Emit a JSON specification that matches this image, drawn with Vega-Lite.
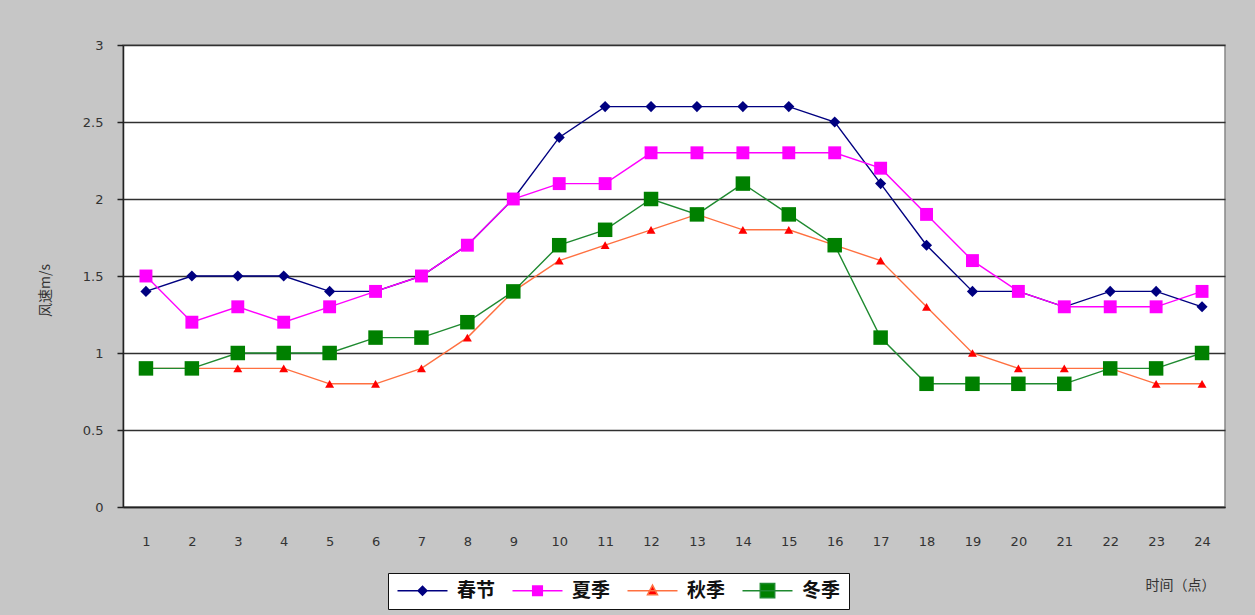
{
  "$schema": "https://vega.github.io/schema/vega-lite/v6.json",
  "autosize": "none",
  "width": 1102,
  "height": 462,
  "padding": {"left": 123, "top": 45, "right": 30, "bottom": 108},
  "background": "#c6c6c6",
  "config": {
    "view": {"fill": "white", "stroke": "#888888", "strokeWidth": 1.5},
    "axis": {"labelFont": "DejaVu Sans", "labelColor": "#333333", "labelFontSize": 13, "titleFont": "Noto Sans CJK SC", "titleColor": "#333333", "titleFontWeight": "normal"}
  },
  "data": {"values": [
    {"hour": 1, "season": "春节", "speed": 1.4}, {"hour": 2, "season": "春节", "speed": 1.5}, {"hour": 3, "season": "春节", "speed": 1.5}, {"hour": 4, "season": "春节", "speed": 1.5},
    {"hour": 5, "season": "春节", "speed": 1.4}, {"hour": 6, "season": "春节", "speed": 1.4}, {"hour": 7, "season": "春节", "speed": 1.5}, {"hour": 8, "season": "春节", "speed": 1.7},
    {"hour": 9, "season": "春节", "speed": 2.0}, {"hour": 10, "season": "春节", "speed": 2.4}, {"hour": 11, "season": "春节", "speed": 2.6}, {"hour": 12, "season": "春节", "speed": 2.6},
    {"hour": 13, "season": "春节", "speed": 2.6}, {"hour": 14, "season": "春节", "speed": 2.6}, {"hour": 15, "season": "春节", "speed": 2.6}, {"hour": 16, "season": "春节", "speed": 2.5},
    {"hour": 17, "season": "春节", "speed": 2.1}, {"hour": 18, "season": "春节", "speed": 1.7}, {"hour": 19, "season": "春节", "speed": 1.4}, {"hour": 20, "season": "春节", "speed": 1.4},
    {"hour": 21, "season": "春节", "speed": 1.3}, {"hour": 22, "season": "春节", "speed": 1.4}, {"hour": 23, "season": "春节", "speed": 1.4}, {"hour": 24, "season": "春节", "speed": 1.3},
    {"hour": 1, "season": "夏季", "speed": 1.5}, {"hour": 2, "season": "夏季", "speed": 1.2}, {"hour": 3, "season": "夏季", "speed": 1.3}, {"hour": 4, "season": "夏季", "speed": 1.2},
    {"hour": 5, "season": "夏季", "speed": 1.3}, {"hour": 6, "season": "夏季", "speed": 1.4}, {"hour": 7, "season": "夏季", "speed": 1.5}, {"hour": 8, "season": "夏季", "speed": 1.7},
    {"hour": 9, "season": "夏季", "speed": 2.0}, {"hour": 10, "season": "夏季", "speed": 2.1}, {"hour": 11, "season": "夏季", "speed": 2.1}, {"hour": 12, "season": "夏季", "speed": 2.3},
    {"hour": 13, "season": "夏季", "speed": 2.3}, {"hour": 14, "season": "夏季", "speed": 2.3}, {"hour": 15, "season": "夏季", "speed": 2.3}, {"hour": 16, "season": "夏季", "speed": 2.3},
    {"hour": 17, "season": "夏季", "speed": 2.2}, {"hour": 18, "season": "夏季", "speed": 1.9}, {"hour": 19, "season": "夏季", "speed": 1.6}, {"hour": 20, "season": "夏季", "speed": 1.4},
    {"hour": 21, "season": "夏季", "speed": 1.3}, {"hour": 22, "season": "夏季", "speed": 1.3}, {"hour": 23, "season": "夏季", "speed": 1.3}, {"hour": 24, "season": "夏季", "speed": 1.4},
    {"hour": 1, "season": "秋季", "speed": 0.9}, {"hour": 2, "season": "秋季", "speed": 0.9}, {"hour": 3, "season": "秋季", "speed": 0.9}, {"hour": 4, "season": "秋季", "speed": 0.9},
    {"hour": 5, "season": "秋季", "speed": 0.8}, {"hour": 6, "season": "秋季", "speed": 0.8}, {"hour": 7, "season": "秋季", "speed": 0.9}, {"hour": 8, "season": "秋季", "speed": 1.1},
    {"hour": 9, "season": "秋季", "speed": 1.4}, {"hour": 10, "season": "秋季", "speed": 1.6}, {"hour": 11, "season": "秋季", "speed": 1.7}, {"hour": 12, "season": "秋季", "speed": 1.8},
    {"hour": 13, "season": "秋季", "speed": 1.9}, {"hour": 14, "season": "秋季", "speed": 1.8}, {"hour": 15, "season": "秋季", "speed": 1.8}, {"hour": 16, "season": "秋季", "speed": 1.7},
    {"hour": 17, "season": "秋季", "speed": 1.6}, {"hour": 18, "season": "秋季", "speed": 1.3}, {"hour": 19, "season": "秋季", "speed": 1.0}, {"hour": 20, "season": "秋季", "speed": 0.9},
    {"hour": 21, "season": "秋季", "speed": 0.9}, {"hour": 22, "season": "秋季", "speed": 0.9}, {"hour": 23, "season": "秋季", "speed": 0.8}, {"hour": 24, "season": "秋季", "speed": 0.8},
    {"hour": 1, "season": "冬季", "speed": 0.9}, {"hour": 2, "season": "冬季", "speed": 0.9}, {"hour": 3, "season": "冬季", "speed": 1.0}, {"hour": 4, "season": "冬季", "speed": 1.0},
    {"hour": 5, "season": "冬季", "speed": 1.0}, {"hour": 6, "season": "冬季", "speed": 1.1}, {"hour": 7, "season": "冬季", "speed": 1.1}, {"hour": 8, "season": "冬季", "speed": 1.2},
    {"hour": 9, "season": "冬季", "speed": 1.4}, {"hour": 10, "season": "冬季", "speed": 1.7}, {"hour": 11, "season": "冬季", "speed": 1.8}, {"hour": 12, "season": "冬季", "speed": 2.0},
    {"hour": 13, "season": "冬季", "speed": 1.9}, {"hour": 14, "season": "冬季", "speed": 2.1}, {"hour": 15, "season": "冬季", "speed": 1.9}, {"hour": 16, "season": "冬季", "speed": 1.7},
    {"hour": 17, "season": "冬季", "speed": 1.1}, {"hour": 18, "season": "冬季", "speed": 0.8}, {"hour": 19, "season": "冬季", "speed": 0.8}, {"hour": 20, "season": "冬季", "speed": 0.8},
    {"hour": 21, "season": "冬季", "speed": 0.8}, {"hour": 22, "season": "冬季", "speed": 0.9}, {"hour": 23, "season": "冬季", "speed": 0.9}, {"hour": 24, "season": "冬季", "speed": 1.0}
  ]},
  "encoding": {
    "x": {
      "field": "hour", "type": "ordinal",
      "scale": {"type": "point", "padding": 0.5},
      "axis": {
        "labelAngle": 0, "ticks": false, "labelPadding": 28, "domain": true, "domainColor": "#222222", "domainWidth": 1.5,
        "title": "时间（点）", "titleFontSize": 14, "titleX": 1057, "titleY": 78, "titleAlign": "center", "titleBaseline": "middle"
      }
    },
    "y": {
      "field": "speed", "type": "quantitative",
      "scale": {"domain": [0, 3], "nice": false},
      "axis": {
        "values": [0, 0.5, 1, 1.5, 2, 2.5, 3],
        "format": ".1~f",
        "grid": true, "gridColor": "#303030", "gridWidth": 1.6,
        "domain": true, "domainColor": "#222222", "domainWidth": 1.5,
        "ticks": true, "tickSize": 6, "tickColor": "#222222", "tickWidth": 1.5,
        "labelPadding": 14,
        "title": "风速m/s", "titleFontSize": 14, "titleX": -78, "titleY": 245, "titleAlign": "center", "titleBaseline": "middle"
      }
    }
  },
  "layer": [
    {
      "mark": {"type": "line", "strokeWidth": 1.4},
      "encoding": {
        "stroke": {
          "field": "season", "type": "nominal",
          "scale": {"range": ["#1f8a30", "#ff00ff", "#000080", "#ff7040"]},
          "legend": null
        }
      }
    },
    {
      "mark": {"type": "point", "filled": true, "opacity": 1},
      "encoding": {
        "fill": {
          "field": "season", "type": "nominal",
          "scale": {"domain": ["春节", "夏季", "秋季", "冬季"], "range": ["#000080", "#ff00ff", "#ff0000", "#008000"]},
          "legend": {
            "title": null,
            "orient": "none",
            "legendX": 265,
            "legendY": 528,
            "direction": "horizontal",
            "strokeColor": "#111111",
            "fillColor": "white",
            "padding": 8,
            "symbolSize": 256,
            "symbolOpacity": 1,
            "symbolStrokeWidth": 1.5,
            "labelFont": "Noto Sans CJK SC",
            "labelFontSize": 19,
            "labelFontWeight": "bold",
            "labelColor": "#111111",
            "labelOffset": 42,
            "columnPadding": 13,
            "encode": {
              "symbols": {
                "update": {
                  "shape": {"signal": "datum.value === '春节' ? 'M-1,0H5.25M2.125,-0.55L2.675,0L2.125,0.55L1.575,0Z' : datum.value === '夏季' ? 'M-1,0H5.25M1.525,-0.6H2.725V0.6H1.525Z' : datum.value === '秋季' ? 'M-1,0H5.25M2.125,-0.7L2.75,0.5H1.5Z' : 'M-1,0H5.25M1.225,-0.9H3.025V0.9H1.225Z'"},
                  "stroke": {"signal": "datum.value === '春节' ? '#000080' : datum.value === '夏季' ? '#ff00ff' : datum.value === '秋季' ? '#ff7040' : '#1f8a30'"}
                }
              }
            }
          }
        },
        "shape": {
          "field": "season", "type": "nominal",
          "scale": {"range": ["square", "square", "diamond", "triangle-up"]},
          "legend": null
        },
        "size": {
          "field": "season", "type": "nominal",
          "scale": {"range": [210, 80, 70, 80]},
          "legend": null
        }
      }
    }
  ]
}
